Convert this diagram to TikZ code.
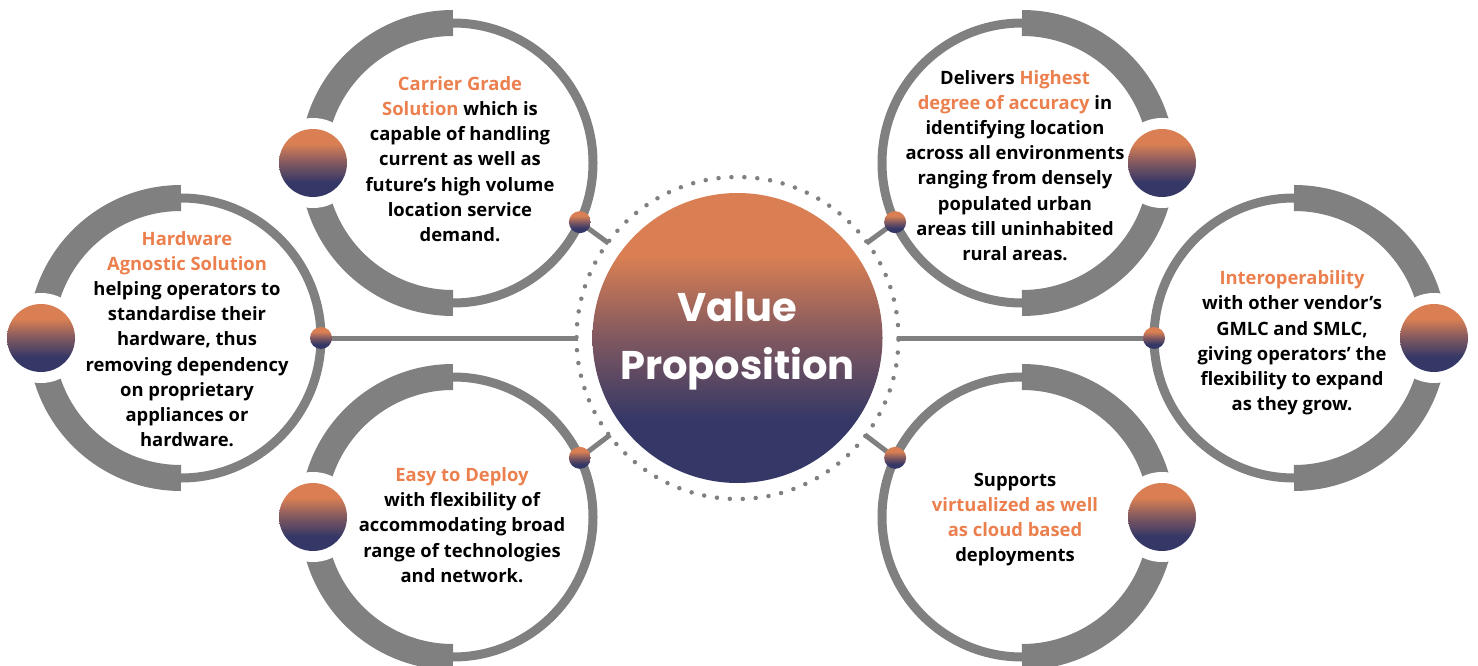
\documentclass[tikz,border=0pt]{standalone}
\usepackage{fontspec}
\setmainfont{Open Sans}
\newfontfamily\vpfont{Poppins}
\usetikzlibrary{calc}
\definecolor{vorange}{RGB}{217,127,83}
\definecolor{vnavy}{RGB}{53,56,102}
\definecolor{vmid}{RGB}{128,88,96}
\definecolor{torange}{RGB}{235,128,78}
\definecolor{ringgray}{RGB}{128,128,128}
\pgfdeclareverticalshading{vpgrad}{100bp}{color(0bp)=(vnavy); color(36bp)=(vnavy); color(50bp)=(vmid); color(64bp)=(vorange); color(100bp)=(vorange)}
\newcommand\hlt[1]{\textcolor{torange}{#1}}
\begin{document}
\begin{tikzpicture}[x=1pt,y=-1pt,
  satring/.style={circle,draw=ringgray,line width=9pt,minimum size=280pt,inner sep=0pt,outer sep=0pt},
  thickarc/.style={draw=ringgray,line width=26pt},
  gapdisc/.style={circle,fill=white,minimum size=90pt,inner sep=0pt},
  bigball/.style={circle,shading=vpgrad,minimum size=68pt,inner sep=0pt},
  smallball/.style={circle,shading=vpgrad,minimum size=22pt,inner sep=0pt},
  hub/.style={circle,shading=vpgrad,minimum size=290pt,inner sep=0pt},
  dotring/.style={circle,draw=ringgray,line width=4.5pt,line cap=round,dash pattern=on 0pt off 12.95pt,minimum size=322pt,inner sep=0pt},
  link/.style={draw=ringgray,line width=5pt},
  body/.style={align=center,font=\fontsize{18.4}{25.2}\selectfont\bfseries,text=black,inner sep=0pt}]
\clip (0,0) rectangle (1478,666);
\useasboundingbox (0,0) rectangle (1478,666);
% satellite rings
\node[satring] (s1) at (181,338) {};
\node[satring] (s2) at (453,163) {};
\node[satring] (s3) at (453,517) {};
\node[satring] (s4) at (1022,163) {};
\node[satring] (s5) at (1294,338) {};
\node[satring] (s6) at (1022,517) {};
% thick outer halves
\draw[thickarc] (s1.north) arc[start angle=90,end angle=270,radius=140pt];
\draw[thickarc] (s2.north) arc[start angle=90,end angle=270,radius=140pt];
\draw[thickarc] (s3.north) arc[start angle=90,end angle=270,radius=140pt];
\draw[thickarc] (s4.south) arc[start angle=-90,end angle=90,radius=140pt];
\draw[thickarc] (s5.south) arc[start angle=-90,end angle=90,radius=140pt];
\draw[thickarc] (s6.south) arc[start angle=-90,end angle=90,radius=140pt];
% gaps and big balls
\node[gapdisc] (g1) at (s1.west) {};
\node[gapdisc] (g2) at (s2.west) {};
\node[gapdisc] (g3) at (s3.west) {};
\node[gapdisc] (g4) at (s4.east) {};
\node[gapdisc] (g5) at (s5.east) {};
\node[gapdisc] (g6) at (s6.east) {};
\node[bigball] (b1) at (s1.west) {};
\node[bigball] (b2) at (s2.west) {};
\node[bigball] (b3) at (s3.west) {};
\node[bigball] (b4) at (s4.east) {};
\node[bigball] (b5) at (s5.east) {};
\node[bigball] (b6) at (s6.east) {};
% hub
\node[dotring] (dr) at (737.5,338) {};
\coordinate (p1) at (s1.east);
\coordinate (p2) at (s2.-25);
\coordinate (p3) at (s3.25);
\coordinate (p4) at (s4.-155);
\coordinate (p5) at (s5.west);
\coordinate (p6) at (s6.155);
\coordinate (e1) at ($(dr.center)!160pt!(p1)$);
\coordinate (e2) at ($(dr.center)!160pt!(p2)$);
\coordinate (e3) at ($(dr.center)!160pt!(p3)$);
\coordinate (e4) at ($(dr.center)!160pt!(p4)$);
\coordinate (e5) at ($(dr.center)!160pt!(p5)$);
\coordinate (e6) at ($(dr.center)!160pt!(p6)$);
\foreach \i in {1,...,6} {\draw[link] (p\i) -- (e\i);}
\foreach \i in {1,...,6} {\node[smallball] (d\i) at (p\i) {};}
\node[hub] (vp) at (737.5,338) {};
\node[align=center,text=white,font=\vpfont\bfseries\fontsize{40}{58}\selectfont] (vt) at (737.5,341) {Value\\Proposition};
% texts
\node[body] (t1) at (187,339) {\hlt{Hardware}\\\hlt{Agnostic Solution}\\helping operators to\\standardise their\\hardware, thus\\removing dependency\\on proprietary\\appliances or\\hardware.};
\node[body] (t2) at (460,159) {\hlt{Carrier Grade}\\\hlt{Solution} which is\\capable of handling\\current as well as\\future’s high volume\\location service\\demand.};
\node[body] (t3) at (462,525) {\hlt{Easy to Deploy}\\with flexibility of\\accommodating broad\\range of technologies\\and network.};
\node[body] (t4) at (1015,165.5) {Delivers \hlt{Highest}\\\hlt{degree of accuracy} in\\identifying location\\across all environments\\ranging from densely\\populated urban\\areas till uninhabited\\rural areas.};
\node[body] (t5) at (1292,343) {\hlt{Interoperability}\\with other vendor’s\\GMLC and SMLC,\\giving operators’ the\\flexibility to expand\\as they grow.};
\node[body] (t6) at (1015,519.5) {Supports\\\hlt{virtualized as well}\\\hlt{as cloud based}\\deployments};
\end{tikzpicture}
\end{document}
